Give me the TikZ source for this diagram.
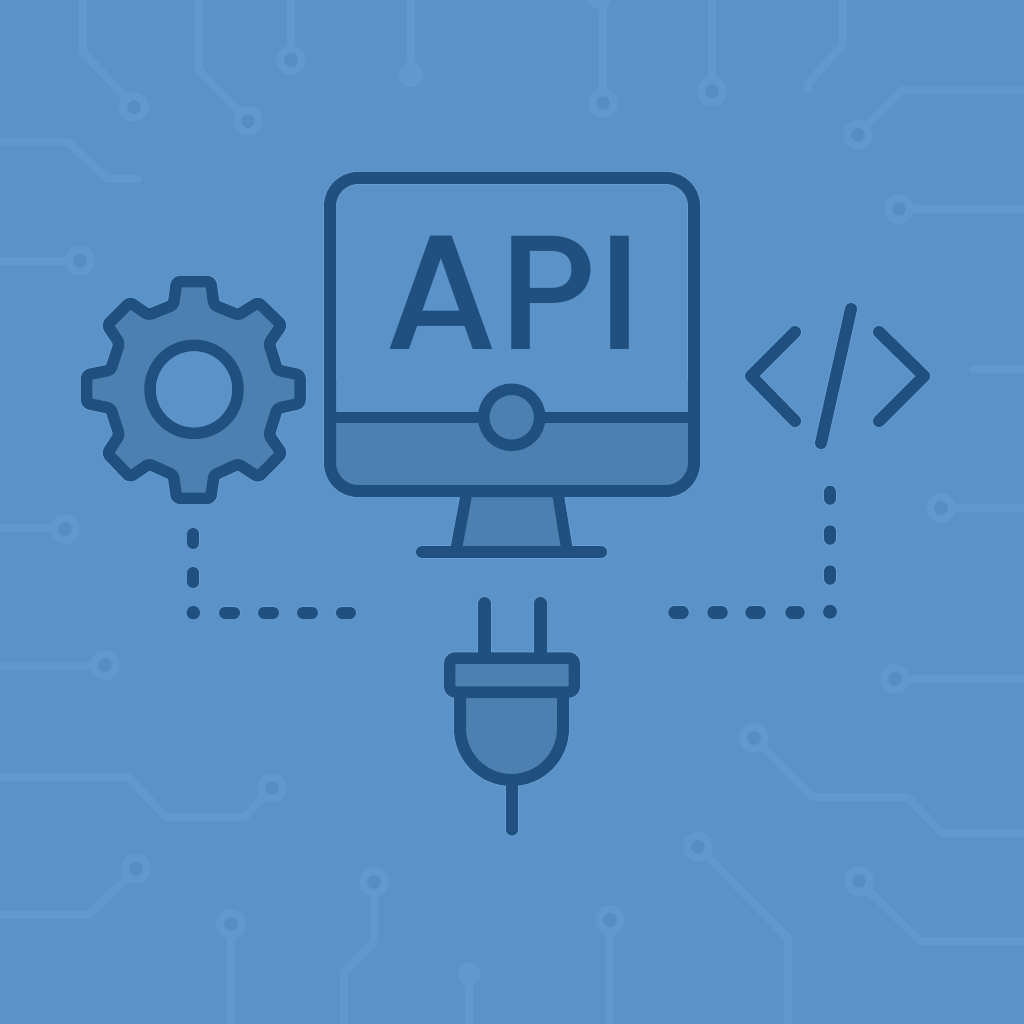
\documentclass[tikz,border=0pt]{standalone}
\usepackage{fontspec}
\newfontfamily\apifont[LetterSpace=1.2]{Poppins Medium}
\definecolor{bgc}{HTML}{5B92C7}
\definecolor{tracec}{HTML}{6298CC}
\definecolor{holec}{HTML}{578EC2}
\definecolor{inkc}{HTML}{20507F}
\definecolor{panelc}{HTML}{4C80B1}
\definecolor{haloc}{HTML}{689FD3}
\tikzset{
  trace/.style={draw=tracec,line width=8pt,line cap=round,line join=round},
  pad/.style={draw=tracec,fill=holec,line width=8pt},
  solidpad/.style={fill=tracec},
  ink/.style={draw=inkc,line width=#1,line cap=round,line join=round},
}
\newcommand\padat[2]{\draw[pad] (#1,#2) circle[radius=11];}
\newcommand\iconshapes{%
  % gear
  \begin{scope}[shift={(70,260)},x=0.33333pt,y=-0.33333pt]
    \draw[ink=11.5pt,fill=panelc,rounded corners=3pt]
      (320,65)--(422,65)--(432,135)--(505,165)--(565,127)--(635,195)--(597,250)--(622,330)
      --(690,345)--(690,430)--(622,445)--(597,525)--(635,580)--(565,651)--(505,612)--(432,645)
      --(422,715)--(320,715)--(310,645)--(237,612)--(180,651)--(112,580)--(148,525)--(122,445)
      --(50,430)--(50,345)--(122,330)--(148,250)--(112,195)--(180,127)--(235,165)--(310,135)--cycle;
    \draw[ink=11.5pt,fill=bgc] (372,388) circle[radius=132];
  \end{scope}
  % monitor
  \fill[panelc,rounded corners=28pt] (330,400) rectangle (694,491);
  \fill[bgc] (330,380) rectangle (694,417.5);
  \fill[panelc] (467,497) -- (557.5,497) -- (567,547) -- (456,547) -- cycle;
  \draw[ink=11.5pt] (467,491) -- (456,550);
  \draw[ink=11.5pt] (557.5,491) -- (567,550);
  \draw[ink=12pt] (422,552) -- (601,552);
  \draw[ink=12pt,rounded corners=28pt] (330,178) rectangle (694,491);
  \draw[ink=11.5pt] (330,417.5) -- (694,417.5);
  \draw[ink=11.5pt,fill=panelc] (511.7,417.3) circle[radius=28];
  % code brackets
  \draw[ink=12pt] (795,332) -- (751,376) -- (795,421);
  \draw[ink=12pt] (879,332) -- (924,376) -- (879,421);
  \draw[ink=12pt] (851,309) -- (821,443);
  % dashed links, left
  \draw[ink=12pt] (193.3,534) -- (193.3,543);
  \draw[ink=12pt] (193.3,573) -- (193.3,582);
  \fill[inkc] (193.3,612.7) circle[radius=6.5];
  \draw[ink=12pt] (225,612.5) -- (234,612.5);
  \draw[ink=12pt] (264,612.5) -- (273,612.5);
  \draw[ink=12pt] (303,612.5) -- (312,612.5);
  \draw[ink=12pt] (342,612.5) -- (350,612.5);
  % dashed links, right
  \draw[ink=12.5pt] (830,492) -- (830,498.5);
  \draw[ink=12.5pt] (830,531.5) -- (830,538.5);
  \draw[ink=12.5pt] (830,571.5) -- (830,578.5);
  \fill[inkc] (830,611.7) circle[radius=6.7];
  \draw[ink=12.5pt] (674.5,612.3) -- (682.5,612.3);
  \draw[ink=12.5pt] (713.5,612.3) -- (721.5,612.3);
  \draw[ink=12.5pt] (751.5,612.3) -- (759.5,612.3);
  \draw[ink=12.5pt] (791.5,612.3) -- (798.5,612.3);
  % plug
  \draw[ink=13pt] (484.5,603.5) -- (484.5,655);
  \draw[ink=13pt] (540,603.5) -- (540,655);
  \draw[ink=12pt] (512,780) -- (512,829.5);
  \draw[ink=12pt,fill=panelc] (460,692) -- (460,728.5) arc[start angle=180,end angle=0,radius=51.5] -- (563,692) -- cycle;
  \draw[ink=11.5pt,fill=panelc,rounded corners=5pt] (449.7,658) rectangle (574.3,692);
}
\begin{document}
\begin{tikzpicture}[x=1pt,y=-1pt]
  \useasboundingbox (0,0) rectangle (1024,1024);
  \fill[bgc] (0,0) rectangle (1024,1024);
  % circuit traces
  \draw[trace] (83,-5) -- (83,52) -- (126,98);
  \padat{134}{107}
  \draw[trace] (199,-5) -- (199,70) -- (240,113);
  \padat{248}{121}
  \draw[trace] (-5,142) -- (68,142) -- (107,179) -- (138,179);
  \draw[trace] (-5,261) -- (68,261);
  \padat{80}{261}
  \draw[trace] (291,-5) -- (291,48);
  \padat{291}{60}
  \draw[trace] (411,-5) -- (411,70);
  \fill[solidpad] (411,75) circle[radius=12.5];
  \fill[solidpad] (599,-3) circle[radius=12];
  \draw[trace] (603,-5) -- (603,92);
  \padat{603}{103}
  \draw[trace] (712,-5) -- (712,80);
  \padat{712}{91}
  \draw[trace] (843,-5) -- (843,45) -- (808,83) -- (808,90);
  \draw[trace] (865,127) -- (903,90) -- (1029,90);
  \padat{858}{135}
  \draw[trace] (910,209) -- (1029,209);
  \padat{899}{209}
  \draw[trace] (973,369) -- (1029,369);
  \draw[trace] (952,508) -- (1029,508);
  \padat{941}{508}
  \draw[trace] (906,679) -- (1029,679);
  \padat{895}{679}
  \draw[trace] (762,746) -- (812,797) -- (907,797) -- (942,833) -- (1029,833);
  \padat{754}{738}
  \draw[trace] (706,855) -- (788,938) -- (788,1029);
  \padat{698}{847}
  \draw[trace] (867,889) -- (920,941) -- (1029,941);
  \padat{859}{881}
  \draw[trace] (-5,528) -- (53,528);
  \padat{65}{529}
  \draw[trace] (-5,666) -- (94,666);
  \padat{105}{665}
  \draw[trace] (-5,777) -- (128,777) -- (166,817) -- (245,817) -- (264,796);
  \padat{272}{788}
  \draw[trace] (-5,915) -- (89,915) -- (128,877);
  \padat{136}{869}
  \draw[trace] (231,935) -- (231,1029);
  \padat{231}{924}
  \draw[trace] (374,893) -- (374,942) -- (344,973) -- (344,1029);
  \padat{374}{882}
  \draw[trace] (469,980) -- (469,1029);
  \fill[solidpad] (469,974) circle[radius=11.5];
  \draw[trace] (610,931) -- (610,1029);
  \padat{610}{920}
  % soft rim around the icons
  \tikzset{ink/.style={draw=haloc,line width=#1+1.6pt,line cap=round,line join=round}}
  \iconshapes
  \tikzset{ink/.style={draw=inkc,line width=#1,line cap=round,line join=round}}
  \iconshapes
  % label
  \node[inner sep=0pt,text=inkc,font=\apifont\fontsize{163}{163}\selectfont] (api) at (513,293) {API};
\end{tikzpicture}
\end{document}
